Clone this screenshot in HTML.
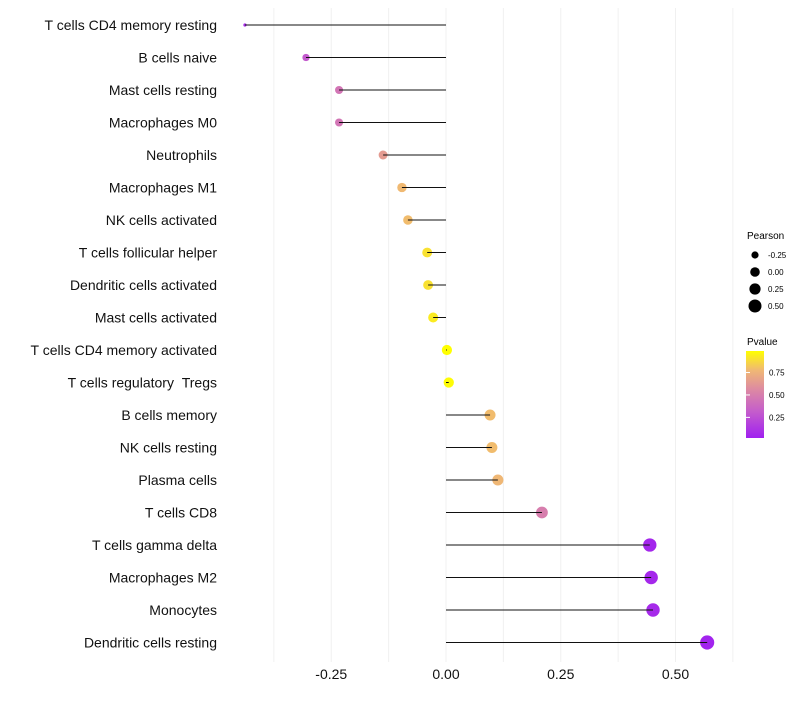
<!DOCTYPE html>
<html><head><meta charset="utf-8"><style>
body{margin:0;background:#fff;font-family:"Liberation Sans",sans-serif}
svg text{font-family:"Liberation Sans",sans-serif}
</style></head><body>
<svg id="chart" width="800" height="700">
<defs><linearGradient id="pg" x1="0" y1="1" x2="0" y2="0">
<stop offset="0" stop-color="#A020F0"/><stop offset="0.3" stop-color="#C45CCC"/><stop offset="0.55" stop-color="#DC88A4"/><stop offset="0.78" stop-color="#F0B874"/><stop offset="1" stop-color="#FFFF00"/>
</linearGradient></defs>
<g id="grid"></g><g id="points"></g><g id="marks"></g><g id="axes"></g>
<g>
<text x="747" y="239" font-size="10">Pearson</text>
<g id="sizeLeg"></g>
<text x="747" y="345" font-size="10">Pvalue</text>
<rect x="746" y="351" width="18" height="87" fill="url(#pg)"/>
<g id="colLeg"></g>
</g>
</svg>
<script>
const categories=["T cells CD4 memory resting","B cells naive","Mast cells resting","Macrophages M0","Neutrophils","Macrophages M1","NK cells activated","T cells follicular helper","Dendritic cells activated","Mast cells activated","T cells CD4 memory activated","T cells regulatory\u00a0\u00a0Tregs","B cells memory","NK cells resting","Plasma cells","T cells CD8","T cells gamma delta","Macrophages M2","Monocytes","Dendritic cells resting"];
const pearson=[-0.438,-0.305,-0.233,-0.233,-0.137,-0.096,-0.083,-0.041,-0.039,-0.028,0.002,0.006,0.096,0.100,0.113,0.209,0.444,0.447,0.451,0.569];
const pvalue=[0.08,0.3,0.45,0.45,0.64,0.78,0.79,0.9,0.9,0.93,0.99,0.98,0.79,0.79,0.77,0.5,0.05,0.06,0.07,0.04];
const xTicks=[-0.25,0,0.25,0.5];
const xTickLabels=["-0.25","0.00","0.25","0.50"];
const sizeLegend=[-0.25,0,0.25,0.5];
const sizeLegendLabels=["-0.25","0.00","0.25","0.50"];
const colTicks=[0.25,0.5,0.75];
const colTickLabels=["0.25","0.50","0.75"];
const NS="http://www.w3.org/2000/svg";
const x=v=>446+v*459;
const y=i=>25+i*32.5;
const r=v=>{const q=26+42*v;return q<8?1.6:Math.sqrt(q);};
const pv=p=>438-(p-0.02)/(0.99-0.02)*87;
const stops=[[0,[160,32,240]],[0.3,[196,92,204]],[0.55,[220,136,164]],[0.78,[240,184,116]],[1,[255,255,0]]];
function hex(c){return c.map(v=>Math.round(v).toString(16).padStart(2,'0')).join('');}
function col(p){const t=Math.min(1,Math.max(0,(p-0.02)/0.97));
for(let k=1;k<stops.length;k++){if(t<=stops[k][0]){const [t0,a]=stops[k-1],[t1,b]=stops[k];const u=(t-t0)/(t1-t0);return '#'+hex(a.map((v,j)=>v+(b[j]-v)*u));}}
return '#ffff00';}
function mk(tag,at,parent){const el=document.createElementNS(NS,tag);for(const k in at)el.setAttribute(k,at[k]);document.getElementById(parent).appendChild(el);return el;}
for(let v=-0.375;v<=0.626;v+=0.125){const g=mk('line',{x1:x(v),x2:x(v),y1:8,y2:662,stroke:'#f0f0f0','stroke-width':1},'grid');

}
categories.forEach((c,i)=>{
const p=mk('circle',{cx:x(pearson[i]),cy:y(i),r:r(pearson[i]),fill:col(pvalue[i])},'points');


const l=mk('line',{x1:x(0),x2:x(pearson[i]),y1:y(i),y2:y(i),stroke:'#111','stroke-width':1},'marks');


const t=mk('text',{x:217,y:y(i)+5,'font-size':14,'text-anchor':'end',fill:'#111'},'axes');t.textContent=c;

});
xTicks.forEach((v,i)=>{const t=mk('text',{x:x(v),y:679,'font-size':14,'text-anchor':'middle',fill:'#111'},'axes');t.textContent=xTickLabels[i];

});
sizeLegend.forEach((v,i)=>{const yy=255+i*17;
const c=mk('circle',{cx:755,cy:yy,r:[3.6,4.8,5.6,6.5][i],fill:'#000'},'sizeLeg');


const t=mk('text',{x:768,y:yy+3,'font-size':8},'sizeLeg');t.textContent=sizeLegendLabels[i];

});
colTicks.forEach((v,i)=>{const yy=pv(v);
const l=mk('line',{x1:746,x2:750,y1:yy,y2:yy,stroke:'#fff'},'colLeg');


const t=mk('text',{x:769,y:yy+3,'font-size':8},'colLeg');t.textContent=colTickLabels[i];

});
</script>
</body></html>
